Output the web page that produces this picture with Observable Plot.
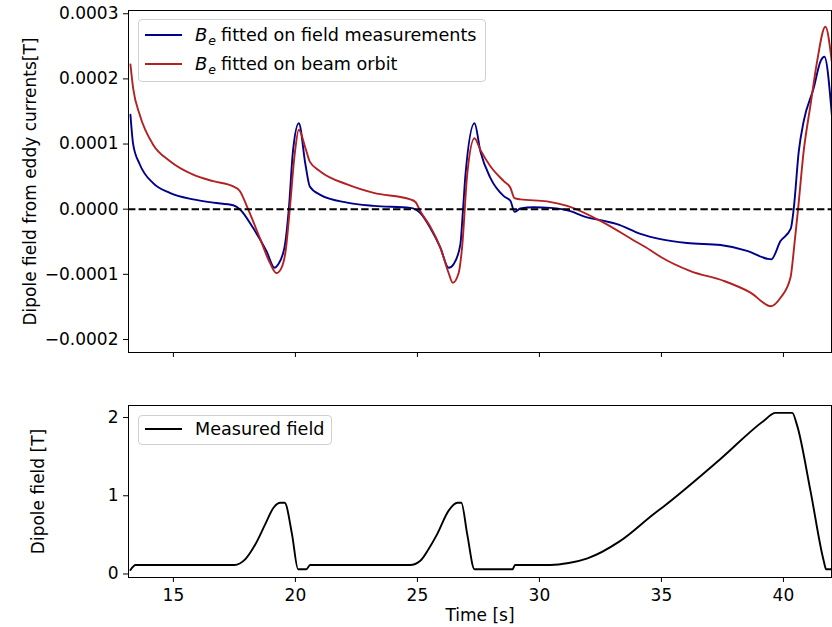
<!DOCTYPE html>
<html><head><meta charset="utf-8">
<script src="https://cdn.jsdelivr.net/npm/d3@7"></script>
<script src="https://cdn.jsdelivr.net/npm/@observablehq/plot@0.6"></script>
<style>
body{margin:0;background:#fff;font-family:"DejaVu Sans",sans-serif;}
#wrap{position:relative;width:832px;height:627px;overflow:hidden;background:#fff;}
#wrap svg{position:absolute;left:0;}
.legend{position:absolute;box-sizing:border-box;border:1px solid #d0d0d0;border-radius:4px;background:rgba(255,255,255,0.8);font-size:17.6px;color:#000;}
.row{position:absolute;left:0;height:20px;line-height:20px;white-space:nowrap;}
.sw{position:absolute;left:6px;top:9px;width:37px;height:0;border-top:2px solid;}
.lab{position:absolute;left:56px;top:0;}
.bi{font-style:italic;font-size:18px;}
.sub{font-size:12.5px;font-style:italic;position:relative;top:4px;margin-right:5px;margin-left:1px;}
</style></head><body><div id="wrap"></div><script>
// ---- data ----
const xTicks = [15, 20, 25, 30, 35, 40];
const topYTicks = [-0.0002, -0.0001, 0, 0.0001, 0.0002, 0.0003];
const bottomYTicks = [0, 1, 2];
const seriesNames = ["fitted on field measurements", "fitted on beam orbit"];
const seriesColors = ["darkblue", "firebrick"];
const fieldName = "Measured field";
const topYLabel = "Dipole field from eddy currents[T]";
const bottomYLabel = "Dipole field [T]";
const xLabel = "Time [s]";

// B_e fitted on field measurements: [time s, field T]
const beFieldMeas = [[13.24,1.45e-4],[13.35,1.00e-4],[13.62,0.69e-4],[14.17,0.40e-4],[14.85,0.25e-4],[15.81,0.15e-4],[16.63,0.10e-4],[17.45,0.06e-4],[17.72,0.00e-4],[18.27,-0.29e-4],[18.81,-0.64e-4],[19.15,-0.90e-4],[19.29,-0.85e-4],[19.56,-0.57e-4],[19.73,0.00e-4],[19.90,0.89e-4],[20.14,1.32e-4],[20.41,0.69e-4],[20.59,0.35e-4],[21.02,0.22e-4],[22.12,0.10e-4],[23.21,0.05e-4],[24.71,0.02e-4],[25.12,-0.06e-4],[25.53,-0.29e-4],[25.94,-0.59e-4],[26.28,-0.90e-4],[26.49,-0.84e-4],[26.76,-0.54e-4],[26.87,0.00e-4],[26.97,0.53e-4],[27.34,1.32e-4],[27.58,0.89e-4],[27.99,0.48e-4],[28.54,0.20e-4],[28.81,0.13e-4],[28.98,-0.04e-4],[29.22,0.01e-4],[29.77,0.03e-4],[30.45,0.02e-4],[31.27,-0.03e-4],[31.82,-0.11e-4],[32.64,-0.18e-4],[33.18,-0.23e-4],[34.14,-0.38e-4],[34.96,-0.46e-4],[36.05,-0.52e-4],[37.42,-0.55e-4],[38.51,-0.64e-4],[39.33,-0.76e-4],[39.50,-0.77e-4],[39.88,-0.49e-4],[40.30,-0.30e-4],[40.42,0.00e-4],[40.63,0.89e-4],[40.83,1.35e-4],[41.24,1.86e-4],[41.52,2.27e-4],[41.68,2.34e-4],[41.99,1.42e-4]];

// B_e fitted on beam orbit: [time s, field T]
const beBeamOrbit = [[13.24,2.22e-4],[13.35,1.86e-4],[13.62,1.45e-4],[14.17,0.99e-4],[14.85,0.74e-4],[15.81,0.53e-4],[16.63,0.43e-4],[17.45,0.35e-4],[17.72,0.28e-4],[18.06,0.00e-4],[18.54,-0.44e-4],[18.95,-0.82e-4],[19.22,-0.98e-4],[19.43,-0.90e-4],[19.60,-0.64e-4],[19.77,0.00e-4],[19.97,0.84e-4],[20.14,1.22e-4],[20.41,0.94e-4],[20.59,0.73e-4],[21.02,0.58e-4],[22.12,0.38e-4],[23.21,0.25e-4],[24.71,0.15e-4],[24.92,0.11e-4],[25.12,-0.03e-4],[25.53,-0.27e-4],[25.94,-0.59e-4],[26.28,-0.98e-4],[26.45,-1.13e-4],[26.69,-0.98e-4],[26.83,-0.59e-4],[27.04,0.53e-4],[27.34,1.09e-4],[27.58,0.91e-4],[27.99,0.66e-4],[28.54,0.43e-4],[28.81,0.33e-4],[28.98,0.17e-4],[29.22,0.15e-4],[30.31,0.12e-4],[31.14,0.05e-4],[32.50,-0.18e-4],[33.87,-0.48e-4],[34.55,-0.63e-4],[34.96,-0.73e-4],[36.19,-0.95e-4],[37.55,-1.10e-4],[38.65,-1.28e-4],[39.49,-1.49e-4],[39.88,-1.36e-4],[40.29,-1.05e-4],[40.45,-0.54e-4],[40.60,0.00e-4],[40.83,0.89e-4],[41.11,1.60e-4],[41.38,2.27e-4],[41.72,2.80e-4],[41.99,2.24e-4]];

// Measured dipole field: [time s, field T]
const measuredField = [[13.24,0.05],[13.45,0.115],[17.50,0.115],[17.95,0.19],[18.36,0.38],[18.77,0.64],[19.11,0.85],[19.39,0.91],[19.56,0.91],[19.86,0.51],[20.11,0.06],[20.45,0.06],[20.60,0.115],[24.70,0.115],[25.12,0.17],[25.46,0.32],[25.81,0.51],[26.28,0.81],[26.64,0.91],[26.80,0.91],[27.04,0.51],[27.34,0.06],[28.90,0.06],[29.00,0.115],[30.45,0.115],[31.20,0.14],[31.97,0.20],[33.30,0.42],[34.70,0.77],[35.08,0.86],[37.42,1.47],[39.20,1.96],[39.67,2.06],[40.36,2.06],[40.56,1.90],[41.11,1.06],[41.65,0.17],[41.75,0.06],[41.99,0.06]];

// ---- drawing ----
const W = 832;
const xDomain = [13.16, 41.97];
const font = {fontFamily: "DejaVu Sans", fontSize: "17px", background: "white", color: "black", overflow: "visible"};
const minus = s => s.replace("-", "\u2212");

const topPlot = Plot.plot({
  width: W, height: 360,
  marginTop: 10, marginBottom: 8, marginLeft: 128, marginRight: 1,
  style: font,
  x: {domain: xDomain},
  y: {domain: [-0.00022, 0.000305]},
  marks: [
    Plot.line(beFieldMeas, {x: d => d[0], y: d => d[1], stroke: seriesColors[0], strokeWidth: 1.9, curve: "monotone-x", clip: true}),
    Plot.line(beBeamOrbit, {x: d => d[0], y: d => d[1], stroke: seriesColors[1], strokeWidth: 1.9, curve: "monotone-x", clip: true}),
    Plot.ruleY([0], {stroke: "black", strokeWidth: 2, strokeDasharray: "7.4,3.2"}),
    Plot.axisY({ticks: topYTicks, tickFormat: d => minus(d.toFixed(4)), tickSize: 5, tickPadding: 5, label: null, fontSize: 17}),
    Plot.axisX({ticks: xTicks, tickFormat: () => "", tickSize: 5, label: null}),
    Plot.frame({stroke: "black", strokeWidth: 1}),
    Plot.text([topYLabel], {frameAnchor: "left", dx: -98, rotate: -90, text: d => d, textAnchor: "middle", lineAnchor: "middle", fontSize: 17})
  ]
});
topPlot.style.top = "0px";

const bottomPlot = Plot.plot({
  width: W, height: 267,
  marginTop: 45, marginBottom: 50, marginLeft: 128, marginRight: 1,
  style: font,
  x: {domain: xDomain},
  y: {domain: [-0.045, 2.154]},
  marks: [
    Plot.line(measuredField, {x: d => d[0], y: d => d[1], stroke: "black", strokeWidth: 1.9, curve: "monotone-x", clip: true}),
    Plot.axisY({ticks: bottomYTicks, tickFormat: d => String(d), tickSize: 5, tickPadding: 5, label: null, fontSize: 17}),
    Plot.axisX({ticks: xTicks, tickFormat: d => String(d), tickSize: 5, tickPadding: 6, label: null, fontSize: 17}),
    Plot.frame({stroke: "black", strokeWidth: 1}),
    Plot.text([bottomYLabel], {frameAnchor: "left", dx: -90, rotate: -90, text: d => d, textAnchor: "middle", lineAnchor: "middle", fontSize: 17}),
    Plot.text([xLabel], {frameAnchor: "bottom", dy: 38, text: d => d, lineAnchor: "middle", fontSize: 17})
  ]
});
bottomPlot.style.top = "360px";

const wrap = document.getElementById("wrap");
wrap.appendChild(topPlot);
wrap.appendChild(bottomPlot);

// legends
function legend(left, topPx, width, height, rows) {
  const box = document.createElement("div");
  box.className = "legend";
  Object.assign(box.style, {left: left + "px", top: topPx + "px", width: width + "px", height: height + "px"});
  rows.forEach(r => {
    const row = document.createElement("div");
    row.className = "row";
    row.style.top = r.top + "px";
    const sw = document.createElement("div");
    sw.className = "sw";
    sw.style.borderTopColor = r.color;
    const lab = document.createElement("div");
    lab.className = "lab";
    lab.innerHTML = r.html;
    row.appendChild(sw); row.appendChild(lab);
    box.appendChild(row);
  });
  wrap.appendChild(box);
}
legend(138, 19, 348, 63, [
  {top: 4.5, color: seriesColors[0], html: '<span class="bi">B</span><span class="sub">e</span>' + seriesNames[0]},
  {top: 33.5, color: seriesColors[1], html: '<span class="bi">B</span><span class="sub">e</span>' + seriesNames[1]}
]);
legend(138, 415, 194, 30, [
  {top: 3, color: "black", html: fieldName}
]);
</script></body></html>
